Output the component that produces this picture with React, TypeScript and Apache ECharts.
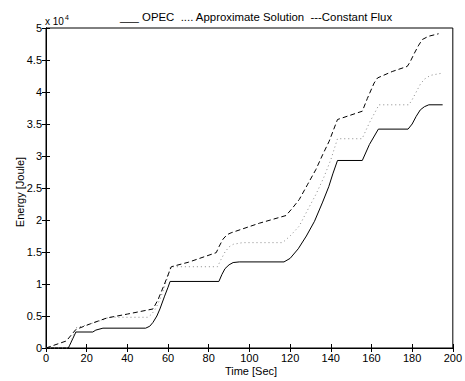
import React, { useEffect, useRef } from "react";
import * as echarts from "echarts";

// Energy values are in units of 10^4 Joule (axis shows "x 10^4")
const opec: [number, number][] = [
  [0, 0], [11, 0], [14.7, 0.25], [23, 0.25], [24.5, 0.28], [28, 0.31], [49, 0.31],
  [51, 0.34], [52.6, 0.4], [54.5, 0.5], [56, 0.61], [58.3, 0.81], [60, 0.95], [61, 1.04],
  [85, 1.04], [86.5, 1.15], [88, 1.24], [90, 1.3], [92, 1.335], [95, 1.345], [117, 1.345],
  [120, 1.4], [124, 1.55], [128, 1.75], [132, 1.98], [136, 2.28], [139, 2.52], [141, 2.72], [143.3, 2.93],
  [155.5, 2.93], [159, 3.18], [163.4, 3.42], [178, 3.42], [180, 3.5], [182, 3.62], [184, 3.72],
  [186, 3.77], [188.2, 3.8], [195, 3.8],
];

const approx: [number, number][] = [
  [0, 0], [11, 0], [15, 0.32], [20, 0.36], [28, 0.44], [31, 0.48], [50, 0.48],
  [52, 0.53], [54, 0.62], [56, 0.76], [58, 0.93], [60, 1.13], [61.2, 1.27], [84.3, 1.27],
  [86, 1.38], [88, 1.5], [90, 1.58], [92, 1.62], [96.6, 1.646], [116.3, 1.646],
  [120, 1.75], [124.5, 1.905], [128.5, 2.15], [132.7, 2.4], [136.5, 2.66], [140, 2.94], [143.3, 3.27],
  [155.4, 3.27], [159, 3.52], [163.7, 3.8], [178.4, 3.8], [180, 3.88], [182, 4.0], [184, 4.12],
  [186, 4.2], [189, 4.26], [194, 4.29],
];

const constFlux: [number, number][] = [
  [0, 0], [10, 0.11], [14.7, 0.29], [22, 0.38], [30, 0.47], [40, 0.53], [52.6, 0.61],
  [55, 0.75], [58, 0.98], [61.6, 1.27], [70, 1.34], [83.7, 1.49], [85, 1.58], [87, 1.7],
  [89, 1.77], [91, 1.8], [104.9, 1.95], [118, 2.07], [121, 2.18], [124.5, 2.32], [128.5, 2.55],
  [132.7, 2.79], [136, 3.02], [139.2, 3.23], [143.3, 3.57], [155.5, 3.7], [158, 3.9], [161.3, 4.14],
  [163, 4.22], [170.2, 4.32], [177.6, 4.4], [179, 4.47], [181, 4.6], [183, 4.72], [185, 4.82],
  [188, 4.87], [193, 4.91],
];

const xMin = 0, xMax = 200, xStep = 20;
const yMin = 0, yMax = 5, yStep = 0.5;

const FONT = "Liberation Sans, Arial, Helvetica, sans-serif";

export default function App() {
  const ref = useRef<HTMLDivElement>(null);
  useEffect(() => {
    if (!ref.current) return;
    document.body.style.margin = "0";
    const chart = echarts.init(ref.current, undefined, { renderer: "svg" });
    const axisLine = { show: true, lineStyle: { color: "#000", width: 1 } };
    const tick = { show: true, inside: true, length: 4, lineStyle: { color: "#000" } };
    const label = { color: "#000", fontSize: 11, fontFamily: FONT };
    chart.setOption({
      animation: false,
      backgroundColor: "#fff",
      grid: { left: 46, right: 11, top: 28, bottom: 33, show: true, borderColor: "#000", borderWidth: 1, backgroundColor: "transparent" },
      title: {
        text: "___ OPEC  .... Approximate Solution  ---Constant Flux",
        left: 251, textAlign: "center", top: 6,
        textStyle: { fontSize: 11.4, fontWeight: "normal", color: "#000", fontFamily: FONT },
      },
      xAxis: [
        {
          type: "value", min: xMin, max: xMax, interval: xStep, position: "bottom",
          axisLine, axisTick: tick, splitLine: { show: false },
          axisLabel: { ...label, margin: 4, showMaxLabel: true, showMinLabel: true },
        },
        {
          type: "value", min: xMin, max: xMax, interval: xStep, position: "top",
          axisLine, axisTick: tick, splitLine: { show: false }, axisLabel: { show: false },
        },
      ],
      yAxis: [
        {
          type: "value", min: yMin, max: yMax, interval: yStep, position: "left",
          axisLine, axisTick: tick, splitLine: { show: false },
          axisLabel: { ...label, margin: 4, formatter: (v: number) => String(Math.round(v * 10) / 10) },
        },
        {
          type: "value", min: yMin, max: yMax, interval: yStep, position: "right",
          axisLine, axisTick: tick, splitLine: { show: false }, axisLabel: { show: false },
        },
      ],
      graphic: [
        {
          type: "text", x: 251, y: 365,
          style: { text: "Time [Sec]", fontSize: 11, fontFamily: FONT, fill: "#000", align: "center", verticalAlign: "top" },
        },
        {
          type: "text", x: 14, y: 192, rotation: Math.PI / 2,
          style: { text: "Energy [Joule]", fontSize: 11, fontFamily: FONT, fill: "#000", align: "center", verticalAlign: "top" },
        },
        {
          type: "text", x: 45, y: 14,
          style: {
            text: "{a|x 10}{s|4}", fontFamily: FONT, fill: "#000",
            rich: {
              a: { fontSize: 10, fontFamily: FONT, color: "#000", verticalAlign: "bottom", lineHeight: 12 },
              s: { fontSize: 7, fontFamily: FONT, color: "#000", verticalAlign: "top", lineHeight: 12, padding: [0, 0, 6, 1] },
            },
          },
        },
      ],
      series: [
        {
          name: "OPEC", type: "line", data: opec, showSymbol: false, smooth: false,
          lineStyle: { color: "#000", width: 1, type: "solid" },
        },
        {
          name: "Approximate Solution", type: "line", data: approx, showSymbol: false,
          lineStyle: { color: "#888", width: 1, type: [1, 3] },
        },
        {
          name: "Constant Flux", type: "line", data: constFlux, showSymbol: false,
          lineStyle: { color: "#000", width: 1, type: [5, 3] },
        },
      ],
    });
    return () => chart.dispose();
  }, []);
  return <div ref={ref} style={{ width: 465, height: 381 }} />;
}
